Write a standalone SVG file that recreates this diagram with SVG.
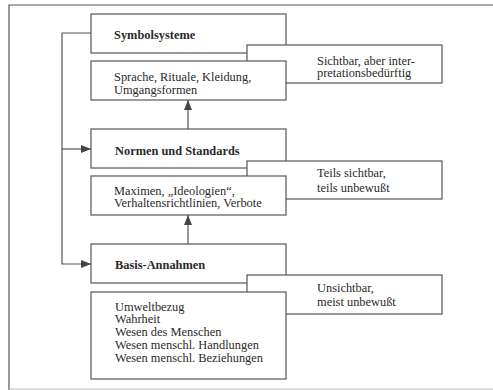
<svg xmlns="http://www.w3.org/2000/svg" width="493" height="390" viewBox="0 0 493 390">
<style>
.box{fill:#fff;stroke:#555;stroke-width:1.2}
.ln{fill:none;stroke:#555;stroke-width:1.2}
.t{font-family:"Liberation Serif","Times New Roman",serif;font-size:12.4px;fill:#2a2a2a}
.b{font-weight:bold}
</style>
<defs>
<marker id="ah" viewBox="0 0 10 8" refX="10" refY="4" markerWidth="10" markerHeight="8" markerUnits="userSpaceOnUse" orient="auto">
<path d="M0,0 L10,4 L0,8 Z" fill="#444"/>
</marker>
</defs>
<rect width="493" height="390" fill="#fff"/>
<g id="frame">
<path class="ln" d="M9,390 V5 H493"/>
<path d="M9,389 H493" stroke="#bbb" stroke-width="1" fill="none"/>
</g>
<g id="connectors">
<path class="ln" d="M91,33 H62 V264 H91" marker-end="url(#ah)"/>
<path class="ln" d="M62,149 H91" marker-end="url(#ah)"/>
<path class="ln" d="M188,129 V100" marker-end="url(#ah)"/>
<path class="ln" d="M188,244 V215" marker-end="url(#ah)"/>
</g>
<g id="symbolsysteme">
<rect class="box" x="91" y="14" width="195" height="39"/>
<text class="t b" x="114" y="39">Symbolsysteme</text>
</g>
<g id="sichtbar">
<rect class="box" x="247" y="45" width="195" height="38"/>
<text class="t" x="317" y="64.5">Sichtbar, aber inter-</text>
<text class="t" x="317" y="77">pretationsbedürftig</text>
</g>
<g id="sprache">
<rect class="box" x="91" y="61" width="195" height="39"/>
<text class="t" x="114" y="81">Sprache, Rituale, Kleidung,</text>
<text class="t" x="114" y="94">Umgangsformen</text>
</g>
<g id="normen">
<rect class="box" x="91" y="129" width="195" height="39"/>
<text class="t b" x="115" y="155">Normen und Standards</text>
</g>
<g id="teils">
<rect class="box" x="247" y="161" width="195" height="38"/>
<text class="t" x="317" y="177">Teils sichtbar,</text>
<text class="t" x="317" y="191.5">teils unbewußt</text>
</g>
<g id="maximen">
<rect class="box" x="91" y="176" width="195" height="39"/>
<text class="t" x="114" y="194.5">Maximen, „Ideologien“,</text>
<text class="t" x="114" y="207">Verhaltensrichtlinien, Verbote</text>
</g>
<g id="basis">
<rect class="box" x="91" y="244" width="195" height="39"/>
<text class="t b" x="115" y="268.5">Basis-Annahmen</text>
</g>
<g id="unsichtbar">
<rect class="box" x="247" y="275" width="195" height="39"/>
<text class="t" x="317" y="292">Unsichtbar,</text>
<text class="t" x="317" y="305.5">meist unbewußt</text>
</g>
<g id="umwelt">
<rect class="box" x="91" y="292" width="195" height="87"/>
<text class="t" x="115" y="310.5">Umweltbezug</text>
<text class="t" x="115" y="323.3">Wahrheit</text>
<text class="t" x="115" y="336.1">Wesen des Menschen</text>
<text class="t" x="115" y="348.9">Wesen menschl. Handlungen</text>
<text class="t" x="115" y="361.7">Wesen menschl. Beziehungen</text>
</g>
</svg>
